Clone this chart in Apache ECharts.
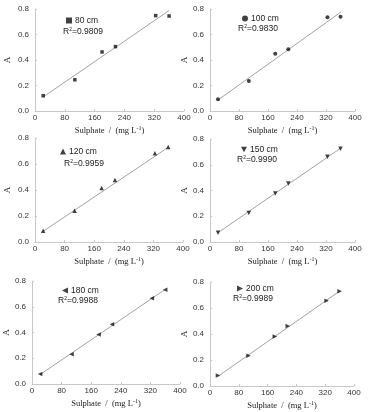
<!DOCTYPE html>
<html><head><meta charset="utf-8">
<script src="https://cdn.jsdelivr.net/npm/echarts@6/dist/echarts.min.js"></script>
<style>html,body{margin:0;padding:0;background:#fff}#c{width:370px;height:412px}</style>
</head><body><div id="c"></div>
<script>
// ---- data ----
var sulphate = [22, 107, 180, 216, 324, 360];
var a80  = [0.12, 0.245, 0.463, 0.505, 0.748, 0.745];
var a100 = [0.092, 0.235, 0.45, 0.484, 0.735, 0.74];
var a120 = [0.087, 0.241, 0.415, 0.477, 0.682, 0.731];
var a150 = [0.072, 0.225, 0.377, 0.455, 0.662, 0.725];
var a180 = [0.077, 0.232, 0.385, 0.465, 0.666, 0.733];
var a200 = [0.08, 0.233, 0.38, 0.462, 0.656, 0.728];
var depths = ['80 cm', '100 cm', '120 cm', '150 cm', '180 cm', '200 cm'];
var r2 = ['0.9809', '0.9830', '0.9959', '0.9990', '0.9988', '0.9989'];
var fitX = [22, 360];
var fitStart = [0.11, 0.086, 0.082, 0.072, 0.073, 0.074];
var fitEnd = [0.788, 0.774, 0.728, 0.728, 0.735, 0.73];
var xTicks = [0, 80, 160, 240, 320, 400];
var yTicks = [0.0, 0.2, 0.4, 0.6, 0.8];

var allA = [a80, a100, a120, a150, a180, a200];
var symbols = ['rect', 'circle', 'triangle', 'triangle', 'triangle', 'triangle'];
var rotates = [0, 0, 0, 180, 90, -90];
var sizes = [3.5, 4, 4.5, 4.5, 4.5, 4.5];
var icons = ['rect', 'circle', 'triangle', 'path://M0,0L10,0L5,9Z', 'path://M10,0L0,5L10,10Z', 'path://M0,0L10,5L0,10Z'];

// layout
var grids = [
  {left: 35, top: 9, width: 149, height: 102},
  {left: 210, top: 9, width: 145, height: 102},
  {left: 35, top: 138, width: 148, height: 104},
  {left: 210, top: 139, width: 145, height: 103},
  {left: 32, top: 281, width: 148, height: 103},
  {left: 210, top: 282, width: 144, height: 104}
];
var legPos = [[66, 16], [242, 14], [60, 147], [241, 145], [62, 286], [237, 284]];
var r2Pos = [[63, 32], [238, 29], [64, 164], [237, 160], [58, 301], [233, 299]];
var yNameGap = [23, 19, 23, 19, 21, 19];

var sans = '"Liberation Sans", Arial, sans-serif';
var serif = '"Liberation Serif", "Times New Roman", serif';
var axisCol = '#c8c8c8';

var option = {animation: false, grid: [], xAxis: [], yAxis: [], series: [], legend: [], graphic: []};
for (var i = 0; i < 6; i++) {
  option.grid.push(grids[i]);
  option.xAxis.push({
    type: 'value', gridIndex: i, min: 0, max: 400, interval: 80,
    name: '{t|Sulphate  /  (mg L}{s|-1}{t|)}', nameLocation: 'middle', nameGap: 14,
    nameTextStyle: {rich: {t: {fontFamily: serif, fontSize: 8.5, color: '#222'}, s: {fontFamily: serif, fontSize: 6, color: '#222', verticalAlign: 'bottom', padding: [0, 0, 5, 0]}}},
    axisLine: {show: true, lineStyle: {color: axisCol, width: 1}},
    axisTick: {show: true, inside: true, length: 2, lineStyle: {color: axisCol}},
    axisLabel: {fontFamily: sans, fontSize: 8, color: '#333', margin: 3},
    splitLine: {show: false}
  });
  option.yAxis.push({
    type: 'value', gridIndex: i, min: 0, max: 0.8, interval: 0.2,
    name: 'A', nameLocation: 'middle', nameGap: yNameGap[i],
    nameTextStyle: {fontFamily: serif, fontSize: 9, color: '#222'},
    axisLine: {show: true, lineStyle: {color: axisCol, width: 1}},
    axisTick: {show: true, inside: true, length: 2, lineStyle: {color: axisCol}},
    axisLabel: {fontFamily: sans, fontSize: 8, color: '#333', margin: 6, formatter: function (v) { return v.toFixed(1); }},
    splitLine: {show: false}
  });
  var pts = sulphate.map(function (x, k) { return [x, allA[i][k]]; });
  option.series.push({
    type: 'line', xAxisIndex: i, yAxisIndex: i, silent: true, symbol: 'none',
    data: [[fitX[0], fitStart[i]], [fitX[1], fitEnd[i]]],
    lineStyle: {color: '#8a8a8a', width: 0.8}, z: 1
  });
  option.series.push({
    type: 'scatter', name: depths[i], xAxisIndex: i, yAxisIndex: i,
    symbol: symbols[i], symbolRotate: rotates[i], symbolSize: sizes[i],
    itemStyle: {color: '#111'}, data: pts, z: 3
  });
  option.legend.push({
    left: legPos[i][0], top: legPos[i][1], itemWidth: 6, itemHeight: 6, itemGap: 2,
    data: [{name: depths[i], icon: icons[i]}],
    textStyle: {fontFamily: sans, fontSize: 8.5, color: '#222', padding: [0, 0, 0, -2]},
    selectedMode: false, padding: 0
  });
  option.graphic.push({
    type: 'text', left: r2Pos[i][0], top: r2Pos[i][1] - 5,
    style: {rich: {a: {fontFamily: sans, fontSize: 8.5, fill: '#222'}, s: {fontFamily: sans, fontSize: 5, fill: '#222', verticalAlign: 'top'}}, text: '{a|R}{s|2}{a|=' + r2[i] + '}'}
  });
}
var chart = echarts.init(document.getElementById('c'), null, {renderer: 'canvas'});
chart.setOption(option);
</script>
</body></html>
